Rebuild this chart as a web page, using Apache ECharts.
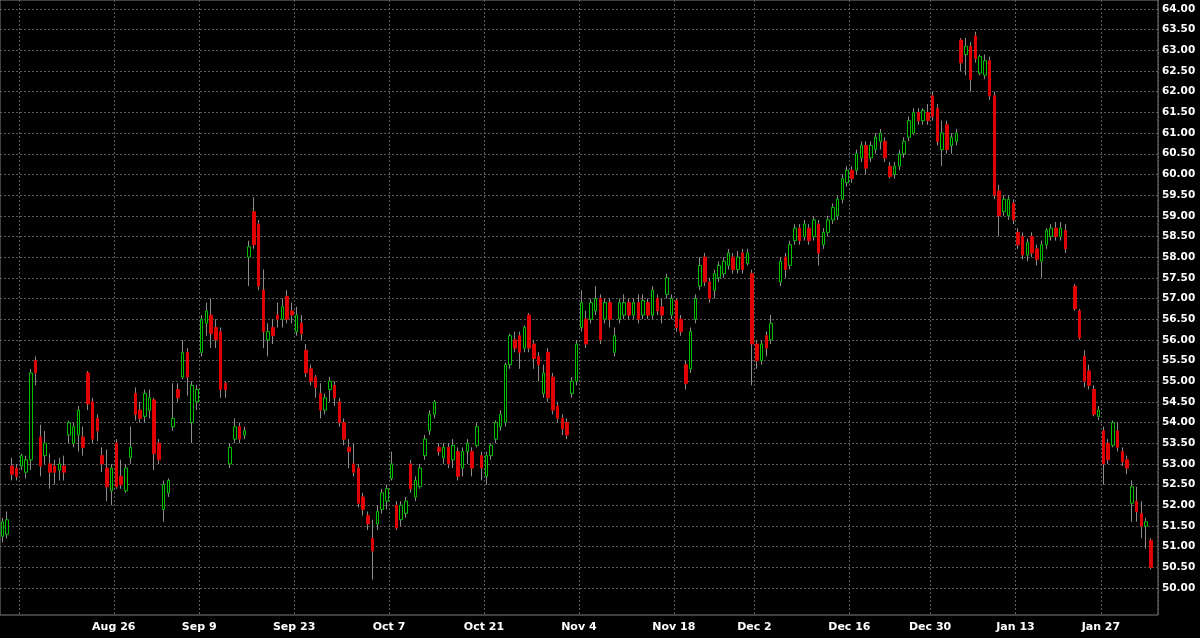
<!DOCTYPE html>
<html><head><meta charset="utf-8">
<script src="https://cdn.jsdelivr.net/npm/echarts@6/dist/echarts.min.js"></script>
<style>html,body{margin:0;padding:0;background:#000;}#c{width:1200px;height:638px;}</style>
</head><body><div id="c"></div><script>
const tradingDays = ["Aug 8","Aug 9","Aug 12","Aug 13","Aug 14","Aug 15","Aug 16","Aug 19","Aug 20","Aug 21","Aug 22","Aug 23","Aug 26","Aug 27","Aug 28","Aug 29","Aug 30",
"Sep 3","Sep 4","Sep 5","Sep 6","Sep 9","Sep 10","Sep 11","Sep 12","Sep 13","Sep 16","Sep 17","Sep 18","Sep 19","Sep 20","Sep 23","Sep 24","Sep 25","Sep 26","Sep 27","Sep 30",
"Oct 1","Oct 2","Oct 3","Oct 4","Oct 7","Oct 8","Oct 9","Oct 10","Oct 11","Oct 14","Oct 15","Oct 16","Oct 17","Oct 18","Oct 21","Oct 22","Oct 23","Oct 24","Oct 25","Oct 28","Oct 29","Oct 30","Oct 31",
"Nov 1","Nov 4","Nov 5","Nov 6","Nov 7","Nov 8","Nov 11","Nov 12","Nov 13","Nov 14","Nov 15","Nov 18","Nov 19","Nov 20","Nov 21","Nov 22","Nov 25","Nov 26","Nov 27","Nov 29",
"Dec 2","Dec 3","Dec 4","Dec 5","Dec 6","Dec 9","Dec 10","Dec 11","Dec 12","Dec 13","Dec 16","Dec 17","Dec 18","Dec 19","Dec 20","Dec 23","Dec 24","Dec 26","Dec 27","Dec 30","Dec 31",
"Jan 2","Jan 3","Jan 6","Jan 7","Jan 8","Jan 9","Jan 10","Jan 13","Jan 14","Jan 15","Jan 16","Jan 17","Jan 21","Jan 22","Jan 23","Jan 24","Jan 27","Jan 28","Jan 29","Jan 30","Jan 31",
"Feb 3"];
const halfDays = ["Nov 29","Dec 24"];
const gridDates = ["Aug 12","Aug 26","Sep 9","Sep 23","Oct 7","Oct 21","Nov 4","Nov 18","Dec 2","Dec 16","Dec 30","Jan 13","Jan 27"];
const labelDates = ["Aug 26","Sep 9","Sep 23","Oct 7","Oct 21","Nov 4","Nov 18","Dec 2","Dec 16","Dec 30","Jan 13","Jan 27"];

const opens = [
51.25,51.3,52.95,52.9,52.95,52.8,53.1,55.5,53.65,53.2,
53.0,52.95,52.85,52.95,53.7,53.5,53.7,53.65,55.2,54.5,
54.1,53.2,52.9,52.35,53.5,52.7,52.35,53.15,54.7,54.3,
54.15,54.3,54.55,53.5,51.9,52.3,53.9,54.8,55.1,55.7,
54.0,54.5,55.7,56.4,56.6,56.3,56.2,54.95,53.0,53.6,
53.9,53.7,58.0,59.1,58.8,57.2,56.0,56.3,56.6,56.5,
57.05,56.7,56.2,56.4,55.75,55.3,55.1,54.7,54.3,54.8,
54.9,54.5,54.0,53.4,53.0,52.9,52.2,51.75,51.2,51.55,
51.9,52.1,52.65,52.0,51.65,51.8,53.0,52.2,52.45,53.2,
53.8,54.2,53.4,53.15,53.4,53.1,53.3,52.9,53.3,53.3,
53.45,53.2,52.7,53.2,53.6,53.9,54.0,55.4,56.0,56.1,
55.8,56.6,55.9,55.6,54.7,55.7,55.1,54.4,54.1,54.0,
54.7,55.0,56.3,56.5,56.5,56.7,57.0,56.5,56.9,55.7,
56.5,56.6,56.9,56.6,56.9,56.6,56.9,56.6,57.0,56.8,
57.1,56.6,56.95,56.5,55.4,55.3,56.5,57.3,58.0,57.4,
57.2,57.5,57.6,57.8,58.0,57.7,58.1,57.85,57.6,55.9,
55.5,56.1,56.0,null,57.4,58.0,57.8,58.4,58.7,58.5,
58.7,58.5,58.8,58.3,58.6,58.9,59.0,59.4,59.8,60.1,
60.1,60.4,60.7,60.4,60.6,60.8,60.8,60.2,60.0,60.2,
60.5,60.9,61.0,61.5,61.3,61.5,61.9,61.6,60.6,61.2,
60.7,60.8,63.25,62.9,63.1,63.35,62.45,62.4,62.75,61.9,
59.6,59.1,59.0,59.3,58.6,58.5,58.05,58.5,58.2,57.9,
58.3,58.5,58.7,58.5,58.65,null,57.3,56.7,55.6,55.25,
54.8,54.15,53.8,53.5,53.45,53.8,53.3,53.1,52.05,52.1,
51.8,51.5,51.15,null];
const closes = [
51.6,51.65,52.75,52.7,53.2,53.1,55.2,55.2,52.95,53.5,
52.8,52.8,53.0,52.8,54.0,53.9,54.3,53.4,54.45,53.6,
53.8,53.0,52.45,52.9,52.45,52.5,52.9,53.4,54.2,54.1,
54.7,54.6,53.25,53.1,52.5,52.6,54.1,54.6,55.7,55.1,
54.9,54.8,56.5,56.7,56.15,56.0,54.8,54.8,53.4,53.9,
53.6,53.8,58.25,58.3,57.3,56.2,56.2,56.1,56.5,56.8,
56.5,56.6,56.6,56.15,55.2,55.0,54.85,54.3,54.6,55.0,
54.6,54.0,53.6,53.3,52.8,52.05,51.9,51.55,50.9,51.85,
52.3,52.4,53.0,51.45,52.0,52.1,52.4,52.6,52.9,53.6,
54.2,54.5,53.3,53.4,53.0,53.45,52.7,53.3,53.5,52.9,
53.9,52.9,53.2,53.45,54.0,54.2,55.4,56.1,55.8,55.7,
56.3,55.8,55.55,55.4,55.2,54.6,54.3,54.1,53.85,53.7,
55.0,55.9,56.9,55.9,56.9,57.0,56.0,56.9,56.5,56.1,
56.9,56.9,56.6,56.9,56.5,56.95,56.6,57.2,56.7,56.6,
57.5,57.0,56.3,56.2,54.95,56.2,57.0,57.8,57.4,57.0,
57.6,57.8,57.9,58.1,57.7,58.0,57.7,58.1,55.9,55.5,
55.9,55.8,56.4,null,57.9,57.7,58.3,58.7,58.4,58.8,
58.4,58.9,58.1,58.6,58.9,59.2,59.4,59.9,60.1,59.9,
60.5,60.7,60.15,60.7,60.9,61.0,60.4,59.95,60.2,60.5,
60.8,61.3,61.5,61.3,61.55,61.3,61.4,60.8,61.0,60.6,
60.9,61.0,62.7,63.1,62.3,62.8,62.85,62.75,61.9,59.5,
59.0,59.4,59.4,58.9,58.3,58.05,58.35,58.1,57.95,58.3,
58.65,58.7,58.5,58.7,58.2,null,56.75,56.05,55.0,54.9,
54.2,54.3,53.0,53.1,54.0,53.4,53.05,52.9,52.45,51.85,
51.5,51.6,50.5,null];
const lows = [
51.1,51.2,52.6,52.6,52.85,52.65,52.85,54.9,52.7,53.0,
52.4,52.5,52.6,52.6,53.5,53.4,53.3,53.2,54.3,53.5,
53.55,52.8,52.1,52.0,52.4,52.4,52.3,53.0,54.05,54.0,
54.0,54.1,52.85,53.0,51.6,52.2,53.8,54.5,55.05,54.65,
53.5,54.3,55.6,56.1,55.8,55.8,54.6,54.6,52.9,53.5,
53.5,53.6,57.3,58.2,57.2,55.8,55.6,55.9,56.3,56.3,
56.4,56.4,56.1,56.0,55.1,54.9,54.6,54.1,54.2,54.5,
54.4,53.9,53.45,52.9,52.7,51.95,51.75,51.4,50.2,51.4,
51.8,51.9,52.6,51.4,51.5,51.7,52.3,52.1,52.4,53.1,
53.7,54.1,53.2,53.0,52.9,52.9,52.6,52.7,53.0,52.7,
53.4,52.6,52.5,53.1,53.5,53.8,53.9,55.3,55.7,55.3,
55.7,55.7,55.3,55.0,54.6,54.5,54.2,54.0,53.7,53.6,
54.6,54.9,56.2,55.8,56.4,56.6,55.9,56.4,56.3,55.6,
56.4,56.5,56.5,56.5,56.4,56.5,56.5,56.5,56.6,56.4,
57.0,56.5,56.2,56.1,54.8,55.2,56.4,57.2,57.3,56.9,
57.0,57.4,57.5,57.7,57.6,57.6,57.6,57.8,54.9,55.3,
55.4,55.6,55.9,null,57.3,57.5,57.7,58.3,58.3,58.4,
58.3,58.4,57.8,58.2,58.5,58.8,58.9,59.3,59.7,59.8,
60.0,60.3,60.0,60.3,60.5,60.6,60.3,59.9,59.9,60.1,
60.4,60.8,60.95,61.2,61.2,61.2,61.3,60.7,60.2,60.5,
60.5,60.7,62.5,62.4,62.0,62.7,62.4,62.3,61.8,59.4,
58.5,59.0,58.9,58.8,58.2,57.95,57.9,58.0,57.8,57.5,
58.2,58.4,58.4,58.4,58.1,null,56.7,56.0,54.85,54.8,
54.15,54.05,52.5,53.0,53.4,53.3,52.95,52.75,51.6,51.6,
51.2,50.95,50.45,null];
const highs = [
51.7,51.85,53.15,53.0,53.25,53.2,55.3,55.6,53.95,53.8,
53.25,53.1,53.15,53.2,54.05,54.0,54.4,53.9,55.25,54.6,
54.2,53.4,53.35,53.0,53.6,53.1,53.0,53.9,54.85,54.5,
54.8,54.8,54.6,53.6,52.6,52.65,54.95,54.95,56.0,55.8,
55.0,54.9,56.6,56.9,57.0,56.5,56.3,55.0,53.5,54.1,
54.0,53.9,58.4,59.45,58.9,57.7,56.4,56.5,56.9,57.0,
57.2,56.9,56.8,56.6,55.9,55.4,55.15,54.95,54.7,55.1,
55.0,54.6,54.1,53.6,53.5,53.0,52.3,51.85,51.65,52.0,
52.4,52.5,53.3,52.1,52.1,52.2,53.1,52.7,53.0,53.7,
54.3,54.55,53.5,53.5,53.5,53.6,53.4,53.4,53.6,53.4,
54.0,53.3,53.3,53.5,54.05,54.3,55.45,56.15,56.2,56.2,
56.35,56.65,56.0,55.7,55.4,55.8,55.2,54.5,54.2,54.1,
55.1,56.0,57.2,56.7,57.0,57.3,57.1,57.0,57.0,56.3,
57.0,57.1,57.0,57.0,57.1,57.1,57.0,57.3,57.1,57.0,
57.6,57.1,57.0,56.6,55.5,56.3,57.1,58.0,58.1,57.5,
57.7,57.9,58.0,58.2,58.1,58.15,58.2,58.2,57.7,56.0,
56.0,56.2,56.6,null,58.0,58.1,58.4,58.8,58.8,58.9,
58.8,59.0,58.9,58.7,59.0,59.3,59.5,60.0,60.2,60.2,
60.6,60.8,60.8,60.8,61.0,61.1,60.9,60.3,60.3,60.6,
60.9,61.4,61.6,61.6,61.6,61.7,62.0,61.7,61.3,61.3,
61.0,61.1,63.3,63.3,63.2,63.45,62.9,62.9,62.85,62.0,
59.75,59.5,59.5,59.4,58.7,58.6,58.45,58.6,58.3,58.4,
58.7,58.8,58.85,58.85,58.8,null,57.35,56.75,55.75,55.4,
54.9,54.4,53.9,53.6,54.05,54.0,53.4,53.2,52.6,52.45,
52.1,51.7,51.2,null];

// one category per bar: two bars per session, one on half days
const cats = [];
tradingDays.forEach(d => { cats.push(d + '|1'); if (!halfDays.includes(d)) cats.push(d + '|2'); });
const dayOf = c => c.split('|')[0];
const isFirst = c => c.endsWith('|1');
const gridIdx = new Set(), labelIdx = new Set();
cats.forEach((c, i) => {
  if (isFirst(c) && gridDates.includes(dayOf(c))) gridIdx.add(i);
  if (isFirst(c) && labelDates.includes(dayOf(c))) labelIdx.add(i);
});
const EMPTY = ['-','-','-','-'];
const wickData = opens.map((o, i) => o == null ? EMPTY : [o, closes[i], lows[i], highs[i]]);
const bodyData = opens.map((o, i) => o == null ? EMPTY : [o, closes[i], Math.min(o, closes[i]), Math.max(o, closes[i])]);

const FONT = 'DejaVu Sans';
const dash = { color: '#5c5c5c', width: 1, type: [2, 2] };
const chart = echarts.init(document.getElementById('c'), null, { renderer: 'canvas' });
chart.setOption({
  backgroundColor: '#000',
  animation: false,
  grid: [
    { left: 0, right: 42, top: 0, bottom: 23, show: true, borderColor: '#808080', borderWidth: 1, backgroundColor: 'transparent' },
    { left: 0, right: 42, top: 9, bottom: 50 }
  ],
  xAxis: [
    { type: 'category', gridIndex: 0, data: cats, boundaryGap: true,
      axisLine: { show: false }, axisTick: { show: false },
      axisLabel: { interval: (i) => labelIdx.has(i), formatter: v => dayOf(v), color: '#fff',
        fontWeight: 'bold', fontFamily: FONT, fontSize: 11, margin: 7, padding: [0, 5, 0, 0] },
      splitLine: { show: true, interval: (i) => gridIdx.has(i), lineStyle: dash } },
    { type: 'category', gridIndex: 1, data: cats, boundaryGap: true, show: false }
  ],
  yAxis: [
    { type: 'value', gridIndex: 0, min: 0, max: 1, show: false, splitLine: { show: false } },
    { type: 'value', gridIndex: 1, position: 'right', min: 50, max: 64, interval: 0.5, scale: true,
      axisLine: { show: false }, axisTick: { show: false },
      axisLabel: { formatter: v => v.toFixed(2), color: '#fff', fontWeight: 'bold', fontFamily: FONT, fontSize: 10.5, margin: 4 },
      splitLine: { show: true, lineStyle: dash } }
  ],
  series: [
    { type: 'candlestick', xAxisIndex: 1, yAxisIndex: 1, data: wickData, barWidth: 1,
      itemStyle: { color: '#8c8c8c', color0: '#8c8c8c', borderColor: '#8c8c8c', borderColor0: '#8c8c8c', borderWidth: 1 } },
    { type: 'candlestick', xAxisIndex: 1, yAxisIndex: 1, data: bodyData, barWidth: 3,
      itemStyle: { color: '#000', color0: '#e00000', borderColor: '#00c000', borderColor0: '#e00000', borderWidth: 1 } }
  ]
});
</script></body></html>
